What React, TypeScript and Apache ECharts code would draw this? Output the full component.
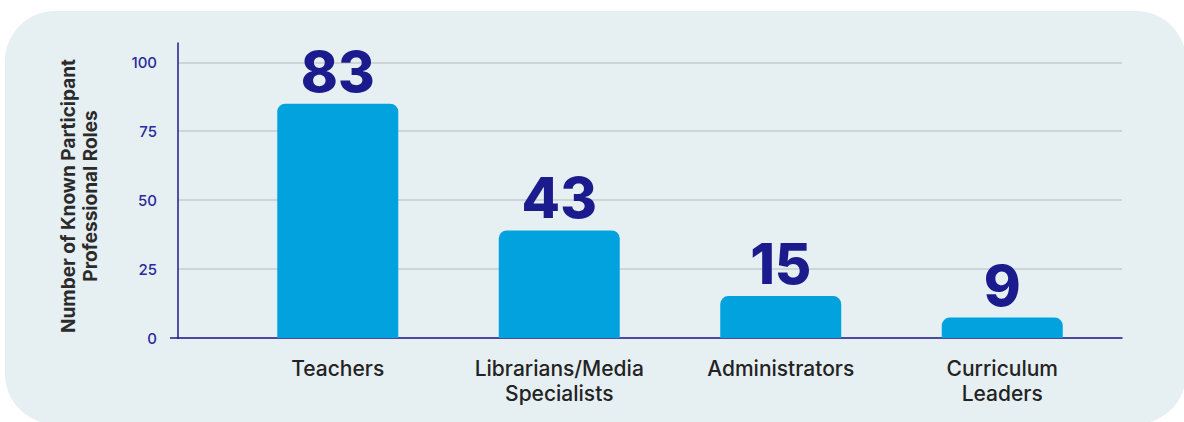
import React, { useEffect, useRef } from "react";
import * as echarts from "echarts";

const categories = ["Teachers", "Librarians/Media\nSpecialists", "Administrators", "Curriculum\nLeaders"];
// bar heights as drawn in the picture
const barHeights = [85, 39, 15.2, 7.4];
// numbers printed above the bars
const barLabels = [83, 43, 15, 9];
const yTicks = [0, 25, 50, 75, 100];
const yTitle = "Number of Known Participant\nProfessional Roles";

const NAVY = "#1c1b8e";
const BAR = "#02a2df";
const FONT = "Inter, 'Noto Sans', sans-serif";

export default function App() {
  const ref = useRef<HTMLDivElement>(null);
  useEffect(() => {
    if (!ref.current) return;
    const chart = echarts.init(ref.current, null, { renderer: "svg" });
    chart.setOption({
      animation: false,
      grid: [
        { left: 178, right: 62, top: 43, bottom: 84 },
        { left: 227, right: 71, top: 43, bottom: 84 },
      ],
      xAxis: [
        {
          gridIndex: 0,
          type: "value",
          min: 0,
          max: 1,
          axisLine: { show: true, lineStyle: { color: NAVY, width: 1.5 } },
          axisTick: { show: false },
          axisLabel: { show: false },
          splitLine: { show: false },
        },
        {
          gridIndex: 1,
          type: "category",
          data: categories,
          axisLine: { show: false },
          axisTick: { show: false },
          axisLabel: {
            margin: 18,
            fontSize: 21,
            lineHeight: 25,
            color: "#232323",
            fontFamily: FONT,
            fontWeight: 500,
            interval: 0,
          },
        },
      ],
      yAxis: [
        {
          gridIndex: 0,
          type: "value",
          min: yTicks[0],
          max: 107,
          interval: 25,
          axisLine: { show: true, lineStyle: { color: NAVY, width: 1.5 } },
          axisTick: { show: false },
          axisLabel: {
            margin: 21,
            fontSize: 15,
            color: "#2a2a9c",
            fontFamily: FONT,
            fontWeight: 500,
            showMaxLabel: false,
            formatter: (v: number) => (yTicks.includes(v) ? String(v) : ""),
          },
          splitLine: {
            show: true,
            showMaxLine: false,
            lineStyle: { color: "#c6cdd1", width: 1.5 },
          },
        },
        {
          gridIndex: 1,
          type: "value",
          min: 0,
          max: 107,
          show: false,
          splitLine: { show: false },
        },
      ],
      graphic: [
        {
          type: "line",
          shape: { x1: 170, y1: 338, x2: 178, y2: 338 },
          style: { stroke: NAVY, lineWidth: 1.5 },
        },
        {
          type: "text",
          x: 79,
          y: 196,
          rotation: Math.PI / 2,
          style: {
            text: yTitle,
            fill: "#2b2b2b",
            font: `bold 19px ${FONT}`,
            textAlign: "center",
            textVerticalAlign: "middle",
            lineHeight: 22,
          },
        },
      ],
      series: [
        {
          type: "bar",
          xAxisIndex: 1,
          yAxisIndex: 1,
          data: barHeights,
          barWidth: 121,
          itemStyle: { color: BAR, borderRadius: [8, 8, 0, 0] },
          label: {
            show: true,
            position: "top",
            distance: 3,
            fontSize: 56,
            lineHeight: 58,
            fontWeight: 800,
            fontFamily: FONT,
            color: NAVY,
            formatter: (p: any) => String(barLabels[p.dataIndex]),
          },
        },
      ],
    });
    return () => chart.dispose();
  }, []);

  return (
    <div style={{ position: "absolute", left: 0, top: 0, width: 1184, height: 422, background: "#ffffff", overflow: "hidden" }}>
      <div
        style={{
          position: "absolute",
          left: 5,
          top: 11,
          width: 1181,
          height: 413,
          borderRadius: 50,
          background: "#e6eff2",
        }}
      />
      <div ref={ref} style={{ position: "absolute", left: 0, top: 0, width: 1184, height: 422 }} />
    </div>
  );
}
